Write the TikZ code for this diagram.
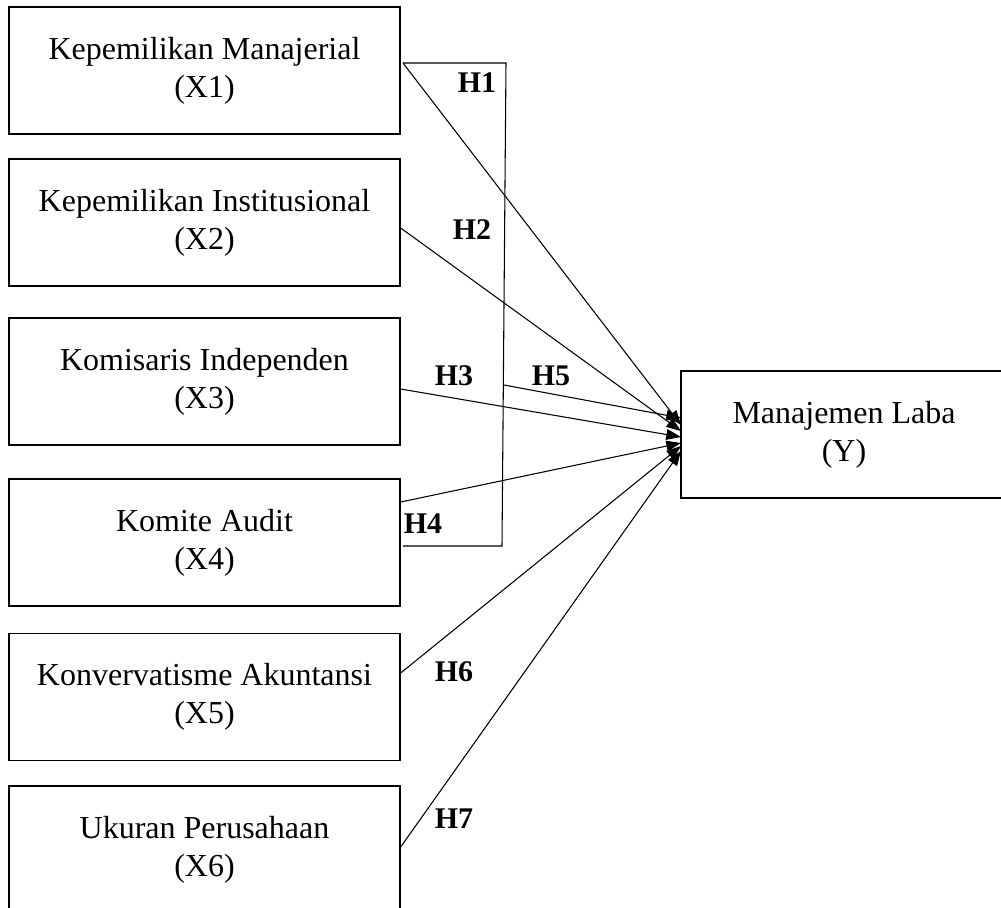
\documentclass[tikz,border=0pt]{standalone}
\usepackage{fontspec}
\setmainfont{Liberation Serif}
\usetikzlibrary{arrows.meta}
\begin{document}
\begin{tikzpicture}[x=0.75pt,y=-0.75pt,
  box/.style={draw,line width=1pt,minimum width=293.25pt,minimum height=95.25pt,align=center,font=\fontsize{24}{28.5}\selectfont,inner sep=0pt},
  lab/.style={font=\fontsize{22.5}{26}\selectfont\bfseries,inner sep=0pt},
  arr/.style={line width=0.8pt,-{Triangle[length=11pt,width=8pt]}},
  ln/.style={line width=0.8pt}]
\useasboundingbox (0,0) rectangle (1001,908);
\node[box] (X1) at (204.5,70.5) {Kepemilikan Manajerial\\(X1)};
\node[box] (X2) at (204.5,222.5) {Kepemilikan Institusional\\(X2)};
\node[box] (X3) at (204.5,381.5) {Komisaris Independen\\(X3)};
\node[box] (X4) at (204.5,542.5) {Komite Audit\\(X4)};
\node[box] (X5) at (204.5,697) {Konvervatisme Akuntansi\\(X5)};
\node[box] (X6) at (204.5,849.5) {Ukuran Perusahaan\\(X6)};
\node[box,minimum width=244.5pt] (Y) at (844,434.5) {Manajemen Laba\\(Y)};
% bracket
\coordinate (b1) at (403,63);
\coordinate (b2) at (506,63);
\coordinate (b3) at (502,546);
\coordinate (b4) at (403,546);
\coordinate (b5) at (504,385);
\draw[ln] (b1) -- (b2) -- (b3) -- (b4);
% targets
\coordinate (t5) at (681,418);
\coordinate (t1) at (681,425);
\coordinate (t2) at (681,431);
\coordinate (t3) at (681,437);
\coordinate (t4) at (681,443);
\coordinate (t6) at (681,446);
\coordinate (t7) at (681,451);
\draw[arr] (b1) -- (t1);
\draw[arr] (X2.east |- 0,228) -- (t2);
\draw[arr] (X3.east |- 0,389) -- (t3);
\draw[arr] (b5) -- (t5);
\draw[arr] (X4.east |- 0,502) -- (t4);
\draw[arr] (X5.east |- 0,673) -- (t6);
\draw[arr] (X6.east |- 0,847) -- (t7);
% labels
\node[lab] (H1) at (477,83) {H1};
\node[lab] (H2) at (472,230) {H2};
\node[lab] (H3) at (454,376) {H3};
\node[lab] (H5) at (551,376) {H5};
\node[lab] (H4) at (423,524) {H4};
\node[lab] (H6) at (454,672) {H6};
\node[lab] (H7) at (454,819) {H7};
\end{tikzpicture}
\end{document}
